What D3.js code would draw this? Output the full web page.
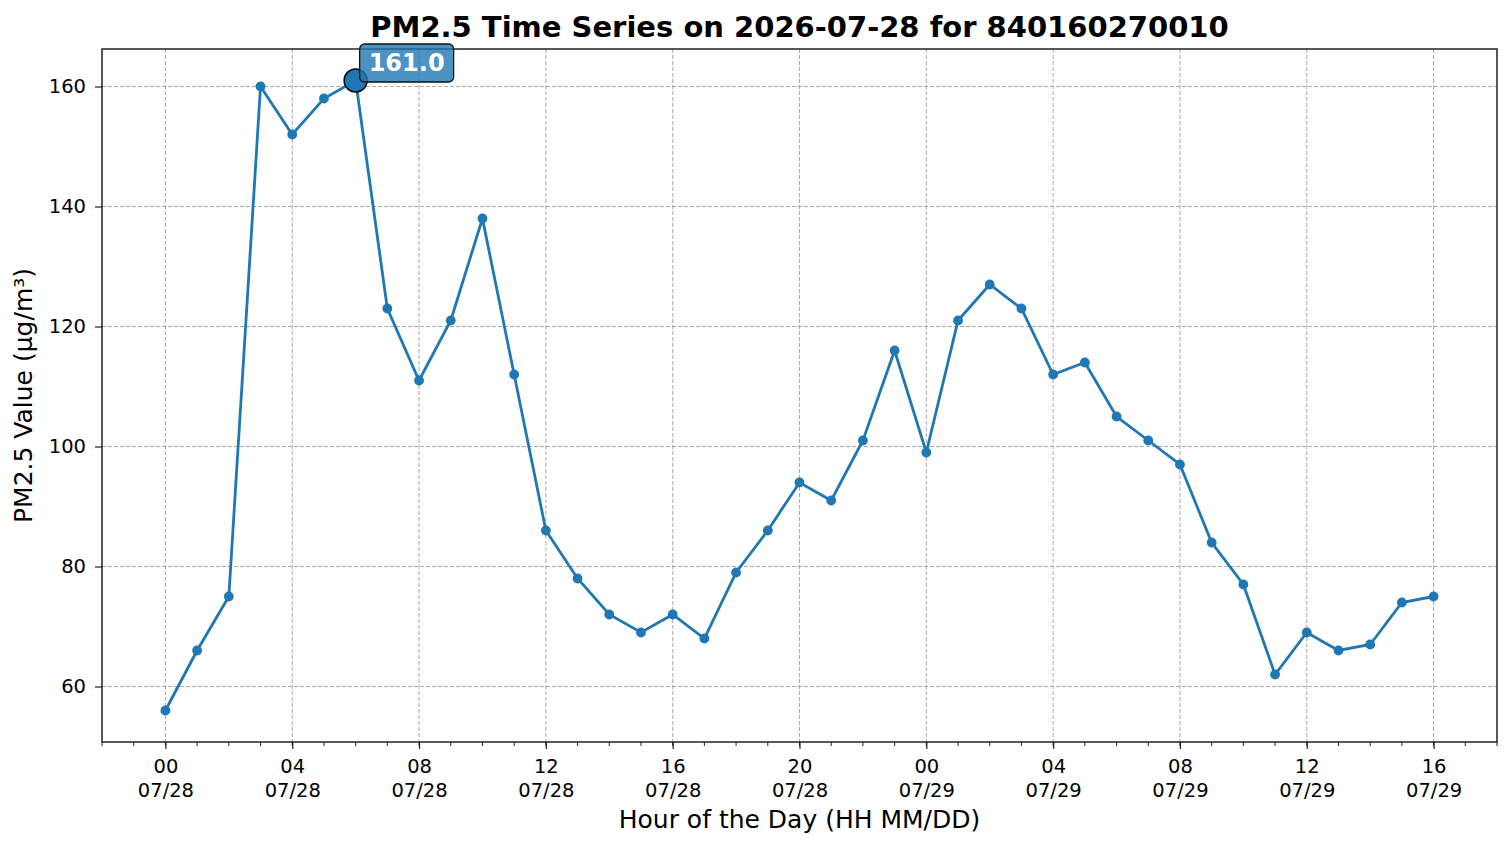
<!DOCTYPE html>
<html>
<head>
<meta charset="utf-8">
<script src="https://cdn.jsdelivr.net/npm/d3@7"></script>
<style>
  body { margin: 0; background: #fff; }
  svg { font-family: "DejaVu Sans", sans-serif; }
</style>
</head>
<body>
<svg width="1511" height="847"></svg>
<script>
const startTime = new Date(2026, 6, 28, 0);
const pm25 = [56, 66, 75, 160, 152, 158, 161, 123, 111, 121, 138, 112, 86, 78, 72, 69, 72, 68, 79, 86, 94, 91, 101, 116,
              99, 121, 127, 123, 112, 114, 105, 101, 97, 84, 77, 62, 69, 66, 67, 74, 75];
const yTicks = [60, 80, 100, 120, 140, 160];
const titleText = 'PM2.5 Time Series on 2026-07-28 for 840160270010';

const data = pm25.map((v, i) => ({t: d3.timeHour.offset(startTime, i), v}));

const width = 1511, height = 847;
const margin = {left: 102, right: 14, top: 49, bottom: 105};
const svg = d3.select('svg');

const t0 = data[0].t, t1 = data[data.length - 1].t;
const span = t1 - t0;
const x = d3.scaleTime()
  .domain([new Date(+t0 - span * 0.05), new Date(+t1 + span * 0.05)])
  .range([margin.left, width - margin.right]);
const vmin = d3.min(pm25), vmax = d3.max(pm25), vr = vmax - vmin;
const y = d3.scaleLinear()
  .domain([vmin - vr * 0.05, vmax + vr * 0.05])
  .range([height - margin.bottom, margin.top]);

const majorTicks = d3.timeHour.every(4).range(x.domain()[0], x.domain()[1]);
const minorTicks = d3.timeHour.every(1).range(x.domain()[0], new Date(+x.domain()[1] + 1));

// grid
const grid = svg.append('g');
grid.selectAll('line.gx').data(majorTicks).enter().append('line')
  .attr('x1', d => x(d)).attr('x2', d => x(d))
  .attr('y1', margin.top).attr('y2', height - margin.bottom)
  .attr('stroke', '#a0a0a0').attr('stroke-width', 0.9).attr('stroke-dasharray', '4,2');
grid.selectAll('line.gy').data(yTicks).enter().append('line')
  .attr('x1', margin.left).attr('x2', width - margin.right)
  .attr('y1', d => y(d)).attr('y2', d => y(d))
  .attr('stroke', '#a0a0a0').attr('stroke-width', 0.9).attr('stroke-dasharray', '4,2');

// line + points
const line = d3.line().x(d => x(d.t)).y(d => y(d.v));
svg.append('path').datum(data)
  .attr('d', line).attr('fill', 'none')
  .attr('stroke', '#1f77b4').attr('stroke-width', 2.8);
svg.append('g').selectAll('circle').data(data).enter().append('circle')
  .attr('cx', d => x(d.t)).attr('cy', d => y(d.v)).attr('r', 4.9)
  .attr('fill', '#1f77b4');

// axes
const fmt = d3.timeFormat('%H');
const fmt2 = d3.timeFormat('%m/%d');
const xAxis = svg.append('g')
  .attr('transform', `translate(0,${height - margin.bottom})`)
  .call(d3.axisBottom(x).tickValues(majorTicks).tickFormat('').tickSize(7))
  .call(g => g.select('.domain').remove());
xAxis.selectAll('line').attr('stroke', '#222').attr('stroke-width', 1.2);
xAxis.selectAll('.tick text').remove();
xAxis.selectAll('.tick').append('text')
  .attr('fill', '#000').attr('font-size', 19.5).attr('text-anchor', 'middle')
  .attr('font-family', '"DejaVu Sans", sans-serif')
  .selectAll('tspan').data(d => [fmt(d), fmt2(d)]).enter().append('tspan')
  .attr('x', 0).attr('y', (d, i) => 31 + i * 24).text(d => d);
svg.append('g').selectAll('line').data(minorTicks).enter().append('line')
  .attr('x1', d => x(d)).attr('x2', d => x(d))
  .attr('y1', height - margin.bottom).attr('y2', height - margin.bottom + 4)
  .attr('stroke', '#222').attr('stroke-width', 1);

const yAxis = svg.append('g')
  .attr('transform', `translate(${margin.left},0)`)
  .call(d3.axisLeft(y).tickValues(yTicks).tickSize(7).tickPadding(9))
  .call(g => g.select('.domain').remove());
yAxis.selectAll('line').attr('stroke', '#222').attr('stroke-width', 1.2);
yAxis.selectAll('text').attr('font-size', 19.5).attr('fill', '#000')
  .attr('font-family', '"DejaVu Sans", sans-serif');

svg.append('rect')
  .attr('x', margin.left).attr('y', margin.top)
  .attr('width', width - margin.left - margin.right)
  .attr('height', height - margin.top - margin.bottom)
  .attr('fill', 'none').attr('stroke', '#222').attr('stroke-width', 1.5);

// peak marker + label
const peak = data.reduce((a, b) => b.v > a.v ? b : a);
svg.append('circle')
  .attr('cx', x(peak.t)).attr('cy', y(peak.v)).attr('r', 11.5)
  .attr('fill', '#1f77b4').attr('stroke', '#000').attr('stroke-width', 1.5);
const lbl = svg.append('g').attr('transform', `translate(${x(peak.t) + 4},${margin.top - 5})`);
lbl.append('rect')
  .attr('x', 0).attr('y', 0).attr('width', 94).attr('height', 38).attr('rx', 5)
  .attr('fill', '#1f77b4').attr('fill-opacity', 0.8)
  .attr('stroke', '#111').attr('stroke-width', 1.3);
lbl.append('text')
  .attr('x', 47).attr('y', 27).attr('text-anchor', 'middle')
  .attr('fill', '#fff').attr('font-size', 24).attr('font-weight', 'bold')
  .text(peak.v.toFixed(1));

// titles
svg.append('text')
  .attr('x', (margin.left + width - margin.right) / 2).attr('y', 37)
  .attr('text-anchor', 'middle').attr('font-size', 29).attr('font-weight', 'bold')
  .text(titleText);
svg.append('text')
  .attr('x', (margin.left + width - margin.right) / 2).attr('y', 828)
  .attr('text-anchor', 'middle').attr('font-size', 25)
  .text('Hour of the Day (HH MM/DD)');
svg.append('text')
  .attr('transform', `translate(32,${(margin.top + height - margin.bottom) / 2}) rotate(-90)`)
  .attr('text-anchor', 'middle').attr('font-size', 25)
  .text('PM2.5 Value (µg/m³)');
</script>
</body>
</html>
